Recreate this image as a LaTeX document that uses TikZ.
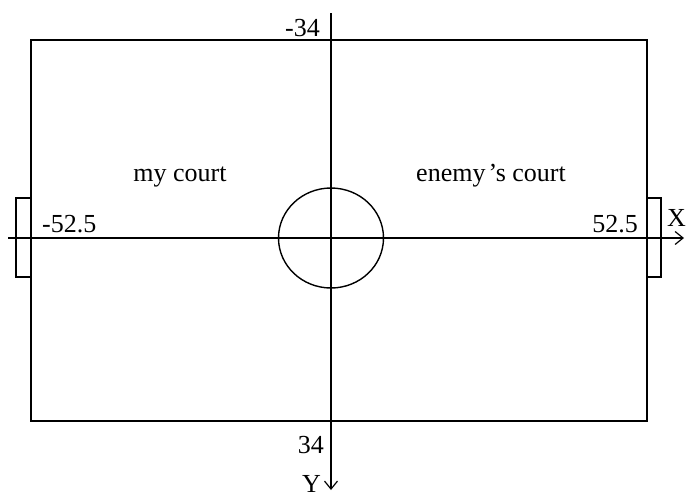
\documentclass[tikz,border=0pt]{standalone}
\usepackage{fontspec}
\setmainfont{Liberation Serif}
\usetikzlibrary{arrows.meta}
\tikzset{
  ln/.style={line width=1.4pt},
  axis/.style={line width=1.4pt,-{Straight Barb[length=8pt,width=13pt,line width=1.2pt]}},
  lbl/.style={inner sep=0pt,font=\fontsize{26}{30}\selectfont}
}
\begin{document}
\begin{tikzpicture}[x=1pt,y=-1pt]
\useasboundingbox[fill=white] (0,0) rectangle (686,493);
% field
\draw[ln] (31,40) rectangle (647,421);
% goals
\draw[ln] (31,198) -- (16,198) -- (16,277) -- (31,277);
\draw[ln] (647,198) -- (661,198) -- (661,277) -- (647,277);
% centre circle
\draw[ln] (331,238) ellipse [x radius=52.5, y radius=50];
% axes
\coordinate (xs) at (8,238);
\coordinate (xe) at (684,238);
\coordinate (ys) at (331,13);
\coordinate (ye) at (331,490);
\draw[axis] (xs) -- (xe);
\draw[axis] (ys) -- (ye);
% labels
\node[lbl,anchor=base] (my) at (180,181) {my court};
\node[lbl,anchor=base] (en) at (491,181) {enemy\kern3pt’s court};
\node[lbl,anchor=base west] (xl) at (42,232) {-52.5};
\node[lbl,anchor=base east] (xr) at (638,232) {52.5};
\node[lbl,anchor=base west] (X) at (667,226) {X};
\node[lbl,anchor=base east] (yt) at (320,36) {-34};
\node[lbl,anchor=base east] (yb) at (324,453) {34};
\node[lbl,anchor=base east] (Y) at (321,492.5) {Y};
\end{tikzpicture}
\end{document}
